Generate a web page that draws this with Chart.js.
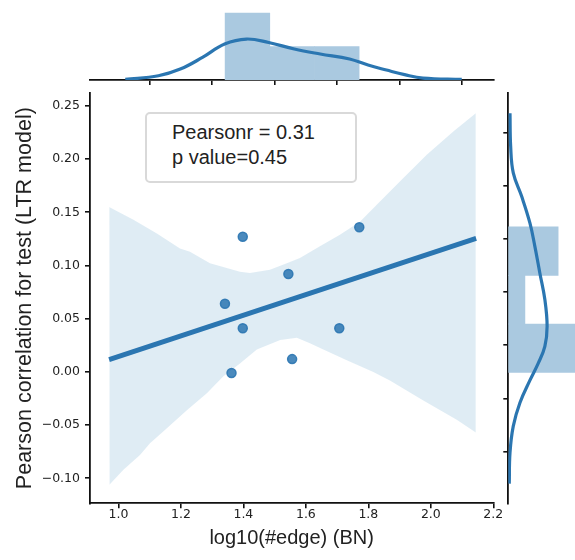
<!DOCTYPE html>
<html>
<head>
<meta charset="utf-8">
<title>log10(#edge) vs Pearson correlation</title>
<script src="https://cdn.jsdelivr.net/npm/chart.js@4.4.1/dist/chart.umd.min.js"></script>
<style>
  body { margin: 0; background: #fff; }
  #wrap { position: relative; width: 575px; height: 560px; overflow: hidden; }
  canvas { position: absolute; }
  #stats {
    position: absolute; left: 145px; top: 112px; width: 212px; height: 71px;
    box-sizing: border-box; border: 2px solid #d9d9d9; border-radius: 5px;
    background: #fff; padding: 6px 0 0 25px;
    font: 20px "Liberation Sans", Arial, sans-serif; line-height: 24.5px; color: #222;
  }
</style>
</head>
<body>
<div id="wrap">
  <canvas id="main" width="575" height="560" style="left:0;top:0"></canvas>
  <canvas id="top" width="575" height="90" style="left:0;top:0"></canvas>
  <canvas id="right" width="85" height="560" style="left:490px;top:0"></canvas>
  <div id="stats">Pearsonr = 0.31<br>p value=0.45</div>
</div>
<script>
// scatter points
const xEdge = [1.341, 1.362, 1.398, 1.398, 1.544, 1.556, 1.707, 1.771];
const yCorr = [0.064, -0.001, 0.127, 0.041, 0.092, 0.012, 0.041, 0.136];

// regression line
const fitX = [0.97, 2.145];
const fitY = [0.0115, 0.1255];

// confidence band edges
const upperX = [0.970, 1.048, 1.123, 1.197, 1.229, 1.293, 1.389, 1.421, 1.485, 1.539, 1.581, 1.645, 1.709, 1.773, 1.827, 1.901, 1.987, 2.072, 2.144];
const upperY = [0.155, 0.143, 0.130, 0.116, 0.113, 0.102, 0.094, 0.093, 0.096, 0.102, 0.107, 0.118, 0.129, 0.141, 0.157, 0.179, 0.204, 0.226, 0.243];
const lowerX = [0.971, 1.016, 1.069, 1.101, 1.155, 1.219, 1.283, 1.336, 1.389, 1.443, 1.518, 1.571, 1.613, 1.656, 1.731, 1.816, 1.869, 1.976, 2.083, 2.144];
const lowerY = [-0.106, -0.092, -0.078, -0.067, -0.053, -0.036, -0.020, -0.004, 0.008, 0.021, 0.030, 0.032, 0.027, 0.021, 0.011, 0.000, -0.008, -0.027, -0.045, -0.057];

// top marginal (x distribution)
const histTopCenters = [1.413, 1.556, 1.699];
const histTopDensity = [3.50, 1.75, 1.75];
const kdeTopX = [1.022, 1.128, 1.198, 1.269, 1.340, 1.410, 1.481, 1.563, 1.646, 1.740, 1.799, 1.858, 1.916, 1.975, 2.099];
const kdeTopY = [0.03, 0.22, 0.57, 1.18, 1.88, 2.14, 1.96, 1.62, 1.36, 1.10, 0.78, 0.52, 0.28, 0.10, 0.03];

// right marginal (y distribution)
const histRightCenters = [0.0222, 0.0679, 0.1135];
const histRightDensity = [10.96, 2.74, 8.22];
const kdeRightY = [0.243, 0.212, 0.187, 0.165, 0.140, 0.118, 0.093, 0.068, 0.043, 0.024, 0.008, -0.008, -0.029, -0.051, -0.076, -0.105];
const kdeRightX = [0.28, 0.39, 0.82, 2.20, 3.56, 4.38, 5.20, 6.03, 6.40, 6.03, 4.93, 3.56, 1.92, 0.82, 0.28, 0.16];

// axes
const xTicks = [1.0, 1.2, 1.4, 1.6, 1.8, 2.0, 2.2];
const yTicks = [-0.10, -0.05, 0.00, 0.05, 0.10, 0.15, 0.20, 0.25];
const xMin = 0.909, xMax = 2.2;
const yMin = -0.1235, yMax = 0.2621;

const blue = '#2b76b1';
const histColor = 'rgb(170,201,224)';
const pts = (xs, ys) => xs.map((x, i) => ({ x: x, y: ys[i] }));
const tickFont = { family: 'DejaVu Sans', size: 12.5 };
const labelFont = { family: 'Liberation Sans' };

function axisLines(extra) {
  return Object.assign({
    border: { display: true, color: '#111', width: 1.8 },
    grid: { display: true, drawOnChartArea: false, drawTicks: true, tickLength: 5, color: '#111', lineWidth: 1.6 }
  }, extra);
}

const common = {
  responsive: false,
  animation: false,
  events: [],
  plugins: { legend: { display: false }, tooltip: { enabled: false } }
};

// Main scatter + regression
new Chart(document.getElementById('main'), {
  type: 'line',
  data: {
    datasets: [
      {
        data: pts(xEdge, yCorr), showLine: false,
        pointRadius: 4.5, pointBackgroundColor: 'rgba(43,118,177,0.85)',
        pointBorderColor: 'rgba(43,118,177,0.9)', pointBorderWidth: 1.5
      },
      {
        data: pts(fitX, fitY), borderColor: blue, borderWidth: 4.8,
        pointRadius: 0, fill: false
      },
      {
        data: pts(upperX, upperY), borderWidth: 0, pointRadius: 0,
        fill: '+1', backgroundColor: 'rgba(31,119,180,0.14)'
      },
      {
        data: pts(lowerX, lowerY), borderWidth: 0, pointRadius: 0, fill: false
      }
    ]
  },
  options: Object.assign({}, common, {
    layout: { padding: { left: 0, top: 93, right: 81.7, bottom: 0 } },
    scales: {
      x: axisLines({
        type: 'linear', min: xMin, max: xMax,
        afterBuildTicks: axis => { axis.ticks = xTicks.map(v => ({ value: v })); },
        afterFit: scale => { scale.height = 56.7; },
        ticks: { color: '#222', font: tickFont, padding: -1.5, maxRotation: 0,
          callback: v => v.toFixed(1) },
        title: { display: true, text: 'log10(#edge) (BN)', color: '#222',
          font: Object.assign({ size: 20 }, labelFont), padding: { top: 0, bottom: 10 } }
      }),
      y: axisLines({
        type: 'linear', min: yMin, max: yMax,
        afterBuildTicks: axis => { axis.ticks = yTicks.map(v => ({ value: v })); },
        afterFit: scale => { scale.width = 90; },
        ticks: { color: '#222', font: tickFont, padding: 5,
          callback: v => v.toFixed(2).replace('-', '\u2212') },
        title: { display: true, text: 'Pearson correlation for test (LTR model)', color: '#222',
          font: Object.assign({ size: 21.5 }, labelFont), padding: { top: 12, bottom: 0 } }
      })
    }
  })
});

// Top marginal histogram + kde
new Chart(document.getElementById('top'), {
  type: 'bar',
  data: {
    datasets: [
      {
        type: 'line', data: pts(kdeTopX, kdeTopY), borderColor: blue, borderWidth: 3.2,
        pointRadius: 0, tension: 0.4, fill: false
      },
      {
        type: 'bar', data: pts(histTopCenters, histTopDensity),
        backgroundColor: histColor, borderWidth: 0,
        barPercentage: 1, categoryPercentage: 1
      }
    ]
  },
  options: Object.assign({}, common, {
    layout: { padding: { left: 90, top: 0, right: 81.7, bottom: 0 } },
    scales: {
      x: axisLines({
        type: 'linear', min: xMin, max: xMax, offset: false,
        afterBuildTicks: axis => { axis.ticks = xTicks.map(v => ({ value: v })); },
        afterFit: scale => { scale.height = 10; },
        ticks: { display: false }
      }),
      y: { type: 'linear', display: false, min: 0, max: 4.18 }
    }
  })
});

// Right marginal histogram + kde
new Chart(document.getElementById('right'), {
  type: 'bar',
  data: {
    datasets: [
      {
        type: 'line', data: pts(kdeRightX, kdeRightY), borderColor: blue, borderWidth: 3.2,
        pointRadius: 0, tension: 0.4, fill: false
      },
      {
        type: 'bar', indexAxis: 'y', data: histRightCenters.map((c, i) => ({ y: c, x: histRightDensity[i] })),
        backgroundColor: histColor, borderWidth: 0,
        barPercentage: 1, categoryPercentage: 1
      }
    ]
  },
  options: Object.assign({}, common, {
    layout: { padding: { left: 0, top: 93, right: 0, bottom: 56.7 } },
    scales: {
      x: { type: 'linear', display: false, min: 0, max: 11.0, offset: false },
      y: axisLines({
        type: 'linear', position: 'left', min: yMin, max: yMax, offset: false,
        afterBuildTicks: axis => { axis.ticks = yTicks.map(v => ({ value: v })); },
        afterFit: scale => { scale.width = 18.3; },
        ticks: { display: false }
      })
    }
  })
});
</script>
</body>
</html>
